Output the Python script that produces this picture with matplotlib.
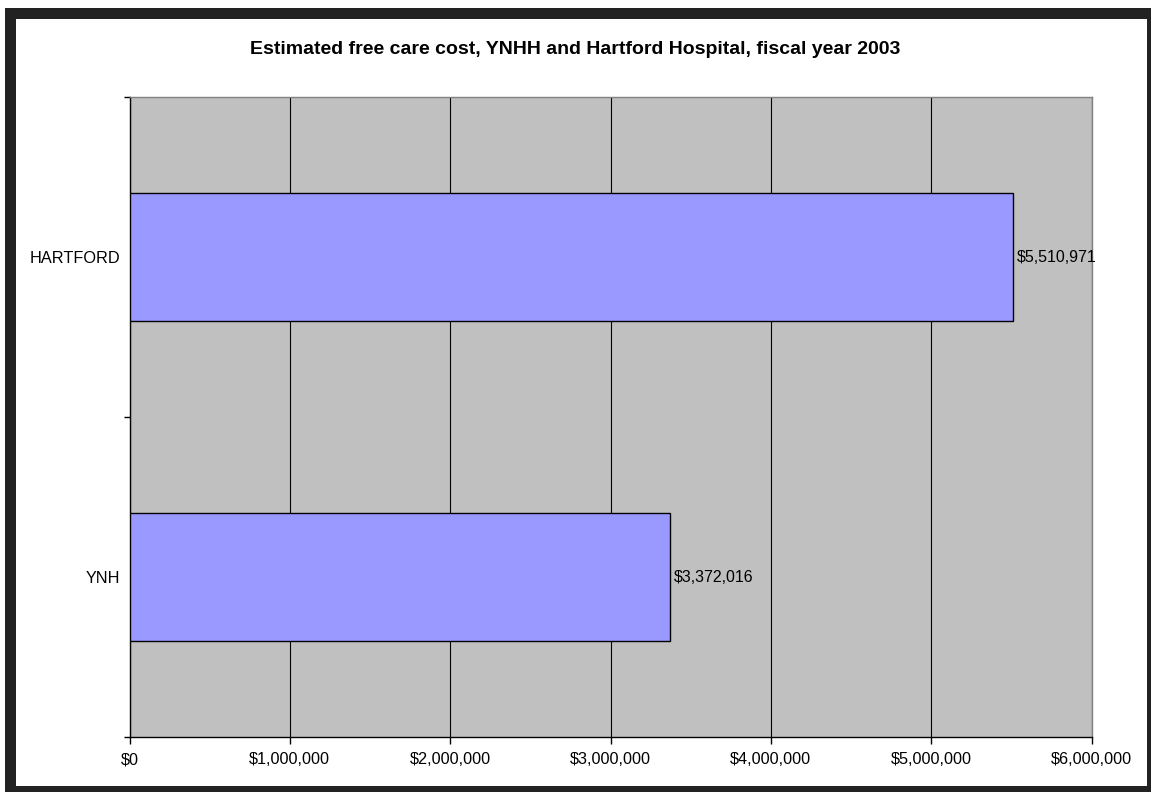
import matplotlib
matplotlib.use("Agg")
import matplotlib.pyplot as plt
from matplotlib.patches import Rectangle
from matplotlib.ticker import FuncFormatter

plt.rcParams['font.family'] = ['Liberation Sans', 'DejaVu Sans']

categories = ["YNH", "HARTFORD"]
values = [3372016, 5510971]
xticks = [0, 1000000, 2000000, 3000000, 4000000, 5000000, 6000000]
title = "Estimated free care cost, YNHH and Hartford Hospital, fiscal year 2003"

W, H = 1151, 792
fig = plt.figure(figsize=(W / 100, H / 100), dpi=100)
fig.patch.set_facecolor("white")

# outer dark frame (pixel strips)
def strip(x0, y0, x1, y1):
    fig.patches.append(Rectangle((x0 / W, 1 - y1 / H), (x1 - x0) / W, (y1 - y0) / H,
                                 transform=fig.transFigure, facecolor="#222222",
                                 edgecolor="none", zorder=10))
strip(5, 8, 16, 792)      # left
strip(5, 8, 1151, 19)     # top
strip(1147, 8, 1151, 792) # right
strip(5, 786, 1151, 792)  # bottom

left, right, top, bottom = 129.5, 1091.5, 97, 737
ax = fig.add_axes([left / W, 1 - bottom / H, (right - left) / W, (bottom - top) / H])
ax.set_facecolor("#C0C0C0")

y = list(range(len(categories)))
ax.barh(y, values, height=0.4, color="#9999FF", edgecolor="black", linewidth=1.0, zorder=3)
for yi, v in zip(y, values):
    ax.annotate(f"${v:,.0f}", (v, yi), xytext=(2.5, 0), textcoords="offset points",
                va="center", ha="left", fontsize=11.5, zorder=4)

ax.set_xlim(0, 6000000)
ax.set_ylim(-0.5, len(categories) - 0.5)
ax.set_xticks(xticks)
ax.xaxis.set_major_formatter(FuncFormatter(lambda v, p: f"${v:,.0f}"))
ax.set_yticks([i - 0.5 for i in range(len(categories) + 1)])
ax.set_yticklabels([])
ax.set_yticks(y, minor=True)
ax.set_yticklabels(categories, minor=True)
ax.tick_params(axis="y", which="minor", length=0, pad=7, labelsize=11.7)
ax.tick_params(axis="y", which="major", length=4, width=1, direction="out")
ax.tick_params(axis="x", length=5, width=1, direction="out", pad=6, labelsize=11.7)
ax.grid(axis="x", color="black", linewidth=0.8, zorder=1)
ax.set_axisbelow(True)

for s in ["top", "right"]:
    ax.spines[s].set_color("#808080")
    ax.spines[s].set_linewidth(1.0)
for s in ["left", "bottom"]:
    ax.spines[s].set_color("black")
    ax.spines[s].set_linewidth(1.0)

fig.text(0.5, 1 - 49 / H, title, ha="center", va="center", fontsize=14, fontweight="bold")

fig.savefig("out.png", dpi=100)
